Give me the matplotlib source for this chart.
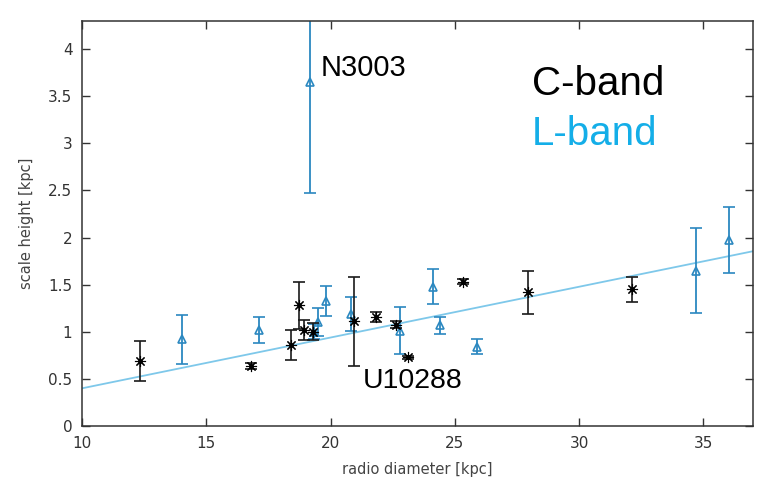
import matplotlib.pyplot as plt
import numpy as np

# C-band measurements
c_diam = [12.33, 16.8, 18.41, 18.71, 18.91, 19.30, 20.94, 21.81, 22.63, 23.10, 25.31, 27.93, 32.13]
c_height = [0.69, 0.635, 0.86, 1.28, 1.02, 1.0, 1.11, 1.155, 1.075, 0.728, 1.533, 1.42, 1.45]
c_err = [0.21, 0.03, 0.16, 0.25, 0.11, 0.09, 0.47, 0.05, 0.04, 0.02, 0.03, 0.23, 0.13]

# L-band measurements
l_diam = [14.0, 17.13, 19.19, 19.35, 19.5, 19.81, 20.84, 22.79, 24.12, 24.41, 25.90, 34.72, 36.03]
l_height = [0.92, 1.02, 3.65, 1.0, 1.1, 1.33, 1.19, 1.01, 1.48, 1.07, 0.84, 1.65, 1.97]
l_err = [0.26, 0.14, 1.18, 0.08, 0.15, 0.16, 0.18, 0.25, 0.19, 0.09, 0.08, 0.45, 0.35]

# linear fit
fit_x = [10, 37]
fit_intercept = 0.40
fit_slope = 0.0539

fig = plt.figure(figsize=(7.82, 4.86), dpi=100)
ax = fig.add_axes([0.105, 0.1235, 0.858, 0.8335])

fx = np.array(fit_x)
ax.plot(fx, fit_intercept + fit_slope * (fx - 10), color='#7ec8ea', lw=1.3, zorder=1)

blue = '#2b88c0'
ax.errorbar(l_diam, l_height, yerr=l_err, fmt='^', color=blue, mfc='none', mec=blue,
            ms=6, mew=1.2, capsize=4, elinewidth=1.3, capthick=1.3, zorder=2)
ax.errorbar(c_diam, c_height, yerr=c_err, fmt='none', ecolor='#1a1a1a',
            capsize=4, elinewidth=1.2, capthick=1.2, zorder=3)
ax.plot(c_diam, c_height, ls='none', marker=(8, 2, 0), ms=8, mew=0.8, color='black', zorder=4)
ax.plot(c_diam, c_height, ls='none', marker='o', ms=2.5, color='black', zorder=4)

ax.set_xlim(10, 37)
ax.set_ylim(0, 4.3)
ax.set_xticks([10, 15, 20, 25, 30, 35])
ax.set_yticks([0, 0.5, 1, 1.5, 2, 2.5, 3, 3.5, 4])
ax.set_yticklabels(['0', '0.5', '1', '1.5', '2', '2.5', '3', '3.5', '4'])
ax.tick_params(direction='in', top=True, right=True, length=6, width=1,
               labelsize=11, colors='#333333', pad=7)
for s in ax.spines.values():
    s.set_color('#333333')
    s.set_linewidth(1.1)

ax.set_xlabel('radio diameter [kpc]', fontsize=10.5, color='#444444', labelpad=8)
ax.set_ylabel('scale height [kpc]', fontsize=10.5, color='#444444', labelpad=10)

ax.text(19.6, 3.8, 'N3003', fontsize=21, family='Liberation Sans', va='center', ha='left')
ax.text(21.3, 0.48, 'U10288', fontsize=20.5, family='Liberation Sans', va='center', ha='left')
ax.text(28.1, 3.63, 'C-band', fontsize=29, family='Liberation Sans', va='center', ha='left',
        color='black')
ax.text(28.1, 3.10, 'L-band', fontsize=29, family='Liberation Sans', va='center', ha='left',
        color='#14aee8')

fig.savefig('out.png', dpi=100)
